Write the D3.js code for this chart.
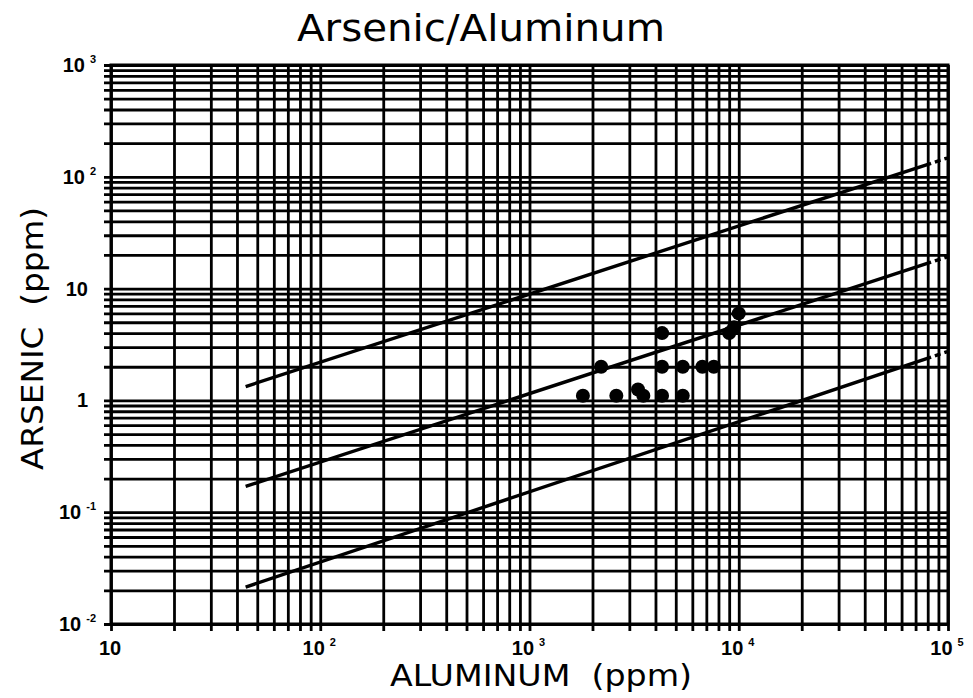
<!DOCTYPE html>
<html>
<head>
<meta charset="utf-8">
<script src="https://cdn.jsdelivr.net/npm/d3@7"></script>
<style>
  body { margin: 0; background: #fff; }
  text { fill: #000; }
</style>
</head>
<body>
<div id="chart"></div>
<script>
// ---------------------------------------------------------------------------
// Arsenic / Aluminum log-log scatter with three fitted lines
// ---------------------------------------------------------------------------

// decade labels: [value, exponent text] ('' = plain "10" or "1")
const xDecades = [[10, ''], [100, '2'], [1000, '3'], [10000, '4'], [100000, '5']];
const yDecades = [[1000, '3'], [100, '2'], [10, ''], [1, ''], [0.1, '-1'], [0.01, '-2']];

// sample points (ppm)
const aluminum = [1800, 2600, 3300, 3500, 4300, 5400, 2200, 4300, 5400, 6700, 7600, 4300, 9000, 9500, 10000];
const arsenic  = [1.1,  1.1,  1.25, 1.1,  1.1,  1.1,  2,    2,    2,    2,    2,    4,    4,    4.5,  6];

// fitted lines, endpoints at these aluminum values
const lineAl     = [44, 100000];
const lineUpper  = [1.33, 148];
const lineMiddle = [0.17, 19.3];
const lineLower  = [0.0214, 2.74];

const W = 973, H = 698;
const margin = { top: 65, right: 25, bottom: 74, left: 111 };
const plotW = W - margin.left - margin.right;
const plotH = H - margin.top - margin.bottom;

const svg = d3.select('#chart').append('svg')
  .attr('width', W).attr('height', H)
  .style('font-family', '"DejaVu Sans", sans-serif');

const x = d3.scaleLog().domain([10, 100000]).range([0, plotW]);
const y = d3.scaleLog().domain([0.01, 1000]).range([plotH, 0]);

const g = svg.append('g').attr('transform', `translate(${margin.left},${margin.top})`);

// grid: every 1..9 x 10^k line, drawn as long ticks that poke out past the axes
const gridW = 2.8;
const xGrid = g.append('g')
  .attr('transform', `translate(0,${plotH + 7})`)
  .call(d3.axisBottom(x).ticks(40).tickSize(-(plotH + 7)).tickFormat(''));
const yGrid = g.append('g')
  .attr('transform', 'translate(-7,0)')
  .call(d3.axisLeft(y).ticks(60).tickSize(-(plotW + 7)).tickFormat(''));
[xGrid, yGrid].forEach(a => {
  a.select('.domain').remove();
  a.selectAll('.tick line').attr('stroke', '#000').attr('stroke-width', gridW);
});

// frame
g.append('rect')
  .attr('width', plotW).attr('height', plotH)
  .attr('fill', 'none').attr('stroke', '#000').attr('stroke-width', 3);

// fitted lines (solid, breaking into short dashes at the right end)
const line = d3.line().x(d => x(d[0])).y(d => y(d[1]));
[lineUpper, lineMiddle, lineLower].forEach(vals => {
  const p = g.append('path')
    .datum(lineAl.map((a, i) => [a, vals[i]]))
    .attr('d', line)
    .attr('fill', 'none').attr('stroke', '#000').attr('stroke-width', 3.4);
  const len = p.node().getTotalLength();
  const solid = len * (x(83000) - x(44)) / (x(100000) - x(44));
  p.attr('stroke-dasharray', `${solid},4,6,4,3,3`);
});

// points
g.selectAll('.pt')
  .data(aluminum.map((a, i) => [a, arsenic[i]]))
  .join('circle')
  .attr('class', 'pt')
  .attr('cx', d => x(d[0]))
  .attr('cy', d => y(d[1]))
  .attr('r', 7)
  .attr('fill', '#000');

// tick labels with small superscript exponents
function decadeLabel(sel, base, exp) {
  sel.append('tspan').text(base);
  if (exp) {
    sel.append('tspan')
      .attr('font-size', '11px')
      .attr('dx', 5)
      .attr('dy', -9)
      .text(exp);
  }
}

xDecades.forEach(([v, e]) => {
  const t = g.append('text')
    .attr('x', x(v) - 1).attr('y', plotH + 31)
    .attr('text-anchor', 'middle')
    .attr('font-family', '"Liberation Sans", Arial, sans-serif')
    .attr('font-weight', 'bold').attr('font-size', '20px');
  decadeLabel(t, '10', e);
});

yDecades.forEach(([v, e]) => {
  const t = g.append('text')
    .attr('x', e ? -15 : -23).attr('y', y(v) + 7)
    .attr('text-anchor', 'end')
    .attr('font-family', '"Liberation Sans", Arial, sans-serif')
    .attr('font-weight', 'bold').attr('font-size', '20px');
  decadeLabel(t, v === 1 ? '1' : '10', e);
});

// titles
svg.append('text')
  .attr('x', 297).attr('y', 41)
  .attr('font-size', '38px')
  .attr('textLength', 368).attr('lengthAdjust', 'spacingAndGlyphs')
  .text('Arsenic/Aluminum');

svg.append('text')
  .attr('x', 390).attr('y', 686)
  .attr('font-size', '30px')
  .attr('textLength', 302).attr('lengthAdjust', 'spacingAndGlyphs')
  .style('white-space', 'pre')
  .text('ALUMINUM  (ppm)');

svg.append('text')
  .attr('transform', `translate(43,470) rotate(-90)`)
  .attr('font-size', '31px')
  .attr('textLength', 263).attr('lengthAdjust', 'spacingAndGlyphs')
  .style('white-space', 'pre')
  .text('ARSENIC  (ppm)');
</script>
</body>
</html>
